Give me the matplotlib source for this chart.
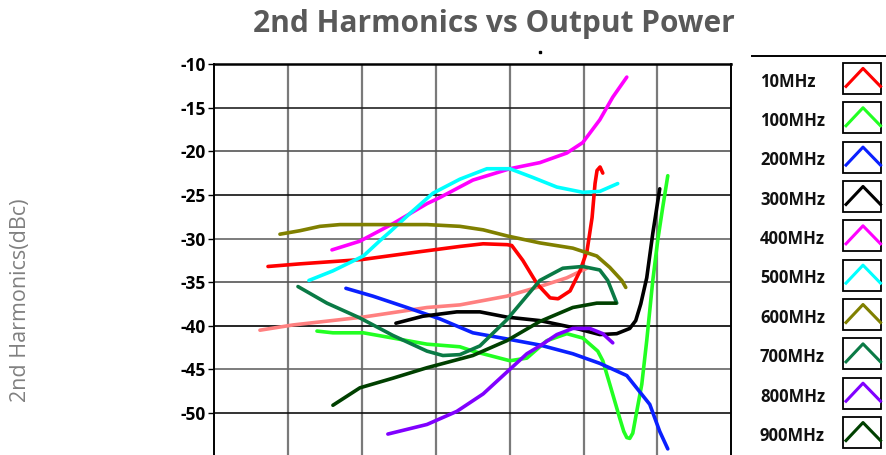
import numpy as np
import matplotlib.pyplot as plt
from matplotlib.patches import Rectangle

# output power axis in grid units (0..7), harmonics in dBc
red_x = [0.727, 1.160, 2.003, 2.788, 3.328, 3.640, 3.965, 4.028, 4.177, 4.371, 4.547, 4.655, 4.817, 4.952, 5.047, 5.115, 5.155, 5.182, 5.223, 5.260]
red_y = [-33.2, -32.9, -32.4, -31.5, -30.9, -30.6, -30.7, -30.8, -32.5, -35.2, -36.8, -36.9, -36.0, -33.7, -31.4, -27.6, -23.7, -22.2, -21.8, -22.5]

grn_x = [1.390, 1.606, 2.018, 2.418, 2.880, 3.325, 3.501, 4.002, 4.232, 4.502, 4.773, 4.989, 5.192, 5.260, 5.355, 5.490, 5.544, 5.585, 5.625, 5.666, 5.720, 5.788, 5.855, 5.937, 6.004, 6.072, 6.140]
grn_y = [-40.6, -40.8, -40.8, -41.4, -42.1, -42.4, -42.9, -44.0, -43.7, -41.7, -40.9, -41.4, -42.9, -44.0, -46.7, -50.6, -52.1, -52.8, -52.9, -52.3, -49.8, -46.7, -41.7, -34.8, -30.2, -26.4, -22.8]

blu_x = [1.782, 2.148, 2.608, 3.054, 3.501, 3.961, 4.408, 4.854, 5.219, 5.585, 5.896, 6.031, 6.140]
blu_y = [-35.7, -36.6, -37.9, -39.2, -40.8, -41.5, -42.2, -43.2, -44.3, -45.7, -49.0, -52.1, -54.1]

blk_x = [2.459, 2.824, 3.284, 3.596, 3.961, 4.408, 4.854, 5.219, 5.449, 5.625, 5.706, 5.774, 5.855, 5.937, 6.031]
blk_y = [-39.7, -38.9, -38.4, -38.4, -39.0, -39.4, -40.2, -41.0, -40.9, -40.3, -39.4, -37.5, -34.5, -29.4, -24.3]

mag_x = [1.593, 1.972, 2.418, 2.880, 3.054, 3.501, 4.002, 4.408, 4.773, 4.989, 5.219, 5.395, 5.585]
mag_y = [-31.3, -30.3, -28.3, -26.0, -25.3, -23.3, -22.0, -21.3, -20.2, -19.0, -16.4, -13.8, -11.5]

cyn_x = [1.281, 1.606, 2.018, 2.248, 2.383, 2.652, 2.961, 3.325, 3.691, 4.002, 4.313, 4.638, 4.989, 5.219, 5.354, 5.462]
cyn_y = [-34.8, -33.7, -32.0, -30.2, -29.2, -27.1, -24.8, -23.2, -22.0, -22.0, -23.0, -24.1, -24.7, -24.6, -24.1, -23.7]

olv_x = [0.889, 1.160, 1.430, 1.701, 2.012, 2.418, 2.880, 3.325, 3.640, 3.965, 4.408, 4.854, 5.179, 5.354, 5.517, 5.571]
olv_y = [-29.5, -29.1, -28.6, -28.4, -28.4, -28.4, -28.4, -28.6, -29.0, -29.7, -30.5, -31.1, -32.0, -33.3, -34.8, -35.6]

tea_x = [1.133, 1.525, 1.972, 2.418, 2.880, 3.095, 3.325, 3.596, 3.961, 4.408, 4.719, 4.989, 5.219, 5.327, 5.449]
tea_y = [-35.5, -37.4, -39.1, -41.1, -42.9, -43.4, -43.3, -42.3, -39.3, -34.8, -33.4, -33.2, -33.6, -34.8, -37.4]

pur_x = [2.350, 2.880, 3.284, 3.640, 3.961, 4.232, 4.408, 4.638, 4.854, 5.084, 5.260, 5.395]
pur_y = [-52.4, -51.3, -49.8, -47.8, -45.3, -43.2, -42.3, -41.0, -40.3, -40.3, -40.9, -41.95]

dgr_x = [1.606, 1.972, 2.418, 2.880, 3.325, 3.501, 3.961, 4.408, 4.854, 5.179, 5.436]
dgr_y = [-49.1, -47.1, -46.0, -44.8, -43.8, -43.4, -41.7, -39.5, -37.9, -37.4, -37.4]

sal_x = [0.618, 1.065, 2.012, 2.880, 3.325, 3.961, 4.408, 4.773, 5.044]
sal_y = [-40.5, -39.9, -39.0, -37.9, -37.6, -36.6, -35.5, -34.5, -33.4]

labels = ['10MHz', '100MHz', '200MHz', '300MHz', '400MHz', '500MHz', '600MHz', '700MHz', '800MHz', '900MHz']
colors = ['#ff0000', '#22ff22', '#0a20ff', '#000000', '#ff00ff', '#00ffff', '#808000', '#0a7a45', '#8000ff', '#004000']
series = [(red_x, red_y), (grn_x, grn_y), (blu_x, blu_y), (blk_x, blk_y), (mag_x, mag_y),
          (cyn_x, cyn_y), (olv_x, olv_y), (tea_x, tea_y), (pur_x, pur_y), (dgr_x, dgr_y)]
yticks = [-10, -15, -20, -25, -30, -35, -40, -45, -50]

W, H = 887, 455
fig = plt.figure(figsize=(W / 100, H / 100), dpi=100)
ax = fig.add_axes([214.3 / W, 0, 517 / W, 1 - 64 / H])

ax.set_xlim(0, 7)
ax.set_ylim(-54.8, -10)
ax.set_xticks(range(8))
ax.set_xticklabels([])
ax.tick_params(axis='x', length=0)
ax.set_yticks(yticks)
ax.set_yticklabels([str(t) for t in yticks], fontfamily='Open Sans', fontweight='bold', fontsize=12.5)
ax.tick_params(axis='y', length=4, width=1, pad=2)

for xv in range(1, 7):
    ax.axvline(xv, color='#7a7a7a', lw=1.6, zorder=1)
hcol = {-15: '#222222', -20: '#555555', -25: '#111111', -30: '#666666', -35: '#555555',
        -40: '#000000', -45: '#666666', -50: '#111111'}
for yv, c in hcol.items():
    ax.axhline(yv, color=c, lw=1.2, zorder=1)

ax.plot(sal_x, sal_y, color='#ff8080', lw=2.6, solid_capstyle='round', zorder=2)
for (xs, ys), c in zip(series, colors):
    ax.plot(xs, ys, color=c, lw=2.6, solid_capstyle='round', solid_joinstyle='round', zorder=3)

ax.spines['bottom'].set_visible(False)
ax.spines['top'].set_linewidth(1.8)
for s in ['left', 'right']:
    ax.spines[s].set_linewidth(1.4)

fig.text(494 / W, 1 - 24 / H, '2nd Harmonics vs Output Power', ha='center', va='center',
         fontsize=21.5, fontweight='bold', fontfamily='Open Sans', color='#595959')
fig.text(21 / W, 1 - 300 / H, '2nd Harmonics(dBc)', ha='center', va='center', rotation=90,
         fontsize=15.5, fontfamily='Open Sans', color='#808080')

# legend panel drawn in pixel space
lax = fig.add_axes([0, 0, 1, 1], facecolor='none')
lax.set_xlim(0, W)
lax.set_ylim(H, 0)
lax.axis('off')
lax.plot([752, W], [55.7, 55.7], color='k', lw=1.4)
lax.plot([540], [52], marker='s', ms=2, color='k')
for i, (lab, c) in enumerate(zip(labels, colors)):
    yc = 81.7 + i * 39.35
    lax.text(760, yc, lab, ha='left', va='center', fontsize=12, fontweight='bold',
             fontfamily='Open Sans', color='#111111')
    by = yc - 3.3
    lax.add_patch(Rectangle((843, by - 15.5), 38, 31, fill=False, edgecolor='k', lw=1.3))
    lax.plot([846, 863, 880.5], [by + 8, by - 10, by + 8], color=c, lw=2.2)

fig.savefig('out.png', dpi=100)
